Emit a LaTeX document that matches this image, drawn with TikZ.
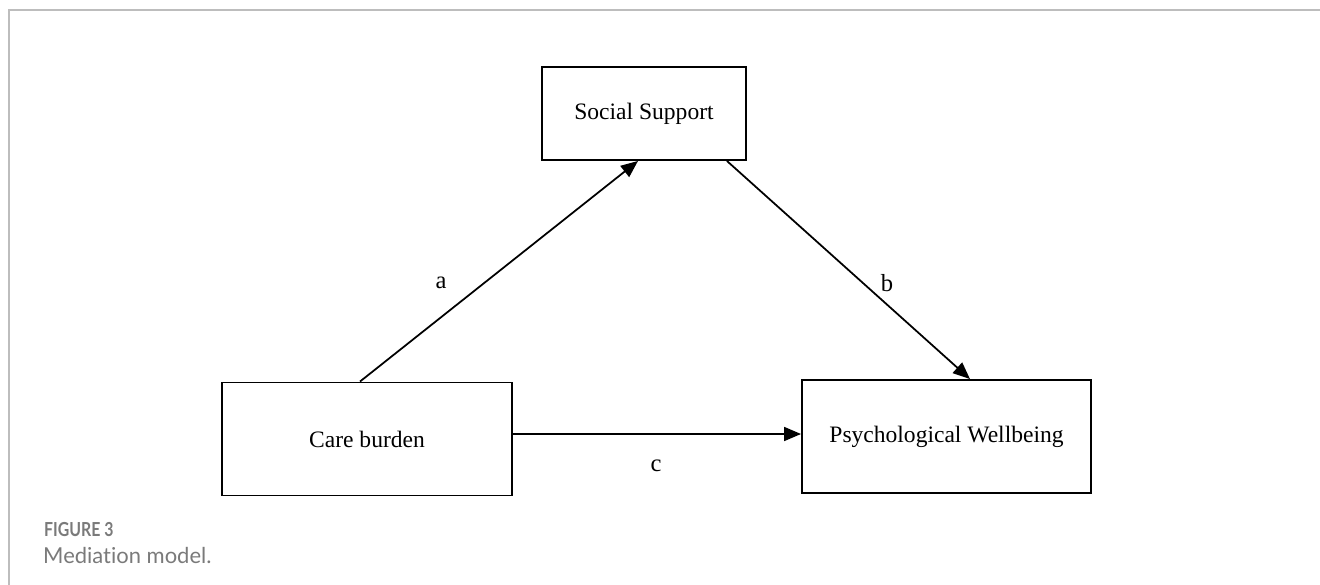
\documentclass[tikz,border=0pt]{standalone}
\usepackage{fontspec}
\setmainfont{Liberation Serif}
\newfontfamily\capfont[Ligatures = NoCommon]{Lato}
\usetikzlibrary{arrows.meta}

\definecolor{framegray}{HTML}{BDBDBD}
\definecolor{capgray}{HTML}{7A7A7A}

\tikzset{
    varbox/.style = {draw, line width = 1.1pt, font = \fontsize{13.4}{15}\selectfont},
    pathlabel/.style = {font = \fontsize{14}{16}\selectfont},
    arr/.style = {-{Triangle[length = 0.34cm, width = 0.28cm]}, line width = 1pt}
}

\begin{document}
\begin{tikzpicture}[x = 0.02cm, y = -0.02cm]

        \useasboundingbox (0, 0) rectangle (1320, 585);

        % Frame
        \draw [framegray, line width = 1.2pt] (9, 585) -- (9, 10) -- (1320, 10);

        % Variables
        \node (ss) [varbox, minimum width = 4.08cm, minimum height = 1.86cm] at (644, 113.5) {Social Support};
        \node (cb) [varbox, minimum width = 5.8cm, minimum height = 2.26cm] at (367, 439) {Care burden};
        \node (pw) [varbox, minimum width = 5.78cm, minimum height = 2.26cm] at (946.5, 436.5) {Psychological Wellbeing};

        %% Paths a, b, c
        \draw [arr] ([xshift = -0.14cm] cb.north) -- ([xshift = -0.12cm] ss.south);
        \draw [arr] ([xshift = -0.4cm] ss.south east) -- ([xshift = 0.47cm] pw.north);
        \draw [arr] ([yshift = 0.1cm] cb.east) -- ([yshift = 0.1cm] cb.east -| pw.west);

        \node (a) [pathlabel] at (441, 283) {a};
        \node (b) [pathlabel] at (887, 283) {b};
        \node (c) [pathlabel] at (656, 466) {c};

        % Caption
        \node (fig) [anchor = west, capgray, font = \capfont\bfseries\fontsize{11}{12}\selectfont] at (38, 530) {\scalebox{0.82}[1]{FIGURE 3}};
        \node (cap) [anchor = west, capgray, font = \capfont\fontsize{12.5}{14}\selectfont] at (37, 555) {Mediation model.};

    \end{tikzpicture}
\end{document}
